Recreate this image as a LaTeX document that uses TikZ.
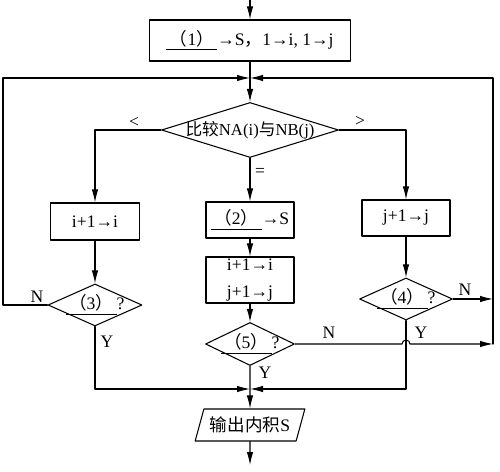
\documentclass[tikz,border=0pt]{standalone}
\usepackage{fontspec}
\setmainfont{Liberation Serif}
\newfontfamily\cjk{Noto Sans CJK SC}
\usetikzlibrary{arrows.meta,shapes.geometric,calc}
\newcommand{\blank}[1]{\underline{\hspace{2pt}{\cjk （}#1{\cjk ）}\hspace{2pt}}}
\tikzset{
	proc/.style={draw,rectangle,line width=0.6pt,inner sep=0pt,align=center,font=\fontsize{10}{15}\selectfont},
	decide/.style={draw,diamond,line width=0.6pt,inner sep=-2pt,font=\fontsize{10}{12}\selectfont},
	io/.style={draw,trapezium,trapezium left angle=65,trapezium right angle=115,trapezium stretches=true,line width=0.6pt,inner sep=0pt,font=\fontsize{10}{12}\selectfont},
	arr/.style={-{Latex[length=2.6mm,width=1.3mm]},line width=0.6pt},
	lbl/.style={inner sep=0pt,font=\fontsize{10}{12}\selectfont}
}
\begin{document}
\begin{tikzpicture}[line cap=round,line join=round,x=1.0cm,y=1.0cm]
		\useasboundingbox (0,0) rectangle (10,9.42);
		% nodes
		\node[proc,minimum width=4.02cm,minimum height=0.82cm] (init) at (5,8.61) {\blank{1}→S{\cjk ，}1→i, 1→j};
		\node[decide,aspect=3.2,minimum width=3.54cm,minimum height=1.1cm,font=\fontsize{9.5}{12}\selectfont] (cmp) at (5,6.82) {{\cjk 比较}NA(i){\cjk 与}NB(j)};
		\node[proc,minimum width=1.78cm,minimum height=0.74cm] (inci) at (1.9,4.99) {i+1→i};
		\node[proc,minimum width=1.76cm,minimum height=0.72cm] (adds) at (5,5.02) {\blank{2}→S};
		\node[proc,minimum width=1.76cm,minimum height=0.72cm] (incj) at (8.12,5.06) {j+1→j};
		\node[proc,minimum width=1.76cm,minimum height=0.92cm] (incij) at (5,3.82) {i+1→i\\j+1→j};
		\node[decide,aspect=2.24,minimum width=1.88cm,minimum height=0.84cm] (ask3) at (1.9,3.32) {\blank{3}?};
		\node[decide,aspect=2.1,minimum width=1.78cm,minimum height=0.86cm] (ask5) at (5,2.54) {\blank{5}?};
		\node[decide,aspect=2.2,minimum width=1.86cm,minimum height=0.84cm] (ask4) at (8.12,3.44) {\blank{4}?};
		\node[io,minimum width=2.2cm,minimum height=0.64cm] (out) at (5,0.92) {{\cjk 输出内积}S};
		\coordinate (start) at (5,9.42);
		\coordinate (stop) at (5,0.12);
		\coordinate (jtop) at (5,7.86);
		\coordinate (jbot) at (5,1.64);
		\coordinate (lx) at (0.06,0);
		\coordinate (rx) at (9.86,0);
		% main line
		\draw[arr] (start) -- (init.north);
		\draw[arr] (init.south) -- (cmp.north);
		\draw[arr] (cmp.west) -| (inci.north);
		\draw[arr] (cmp.south) -- (adds.north);
		\draw[arr] (cmp.east) -| (incj.north);
		\draw[arr] (inci.south) -- (ask3.north);
		\draw[arr] (adds.south) -- (incij.north);
		\draw[arr] (incij.south) -- (ask5.north);
		\draw[arr] (incj.south) -- (ask4.north);
		\draw[arr] (ask5.south) -- (out.north);
		\draw[arr] (out.south) -- (stop);
		% loops back
		\draw[arr] (ask3.west) -- (ask3.west -| lx) -- (jtop -| lx) -- (jtop);
		\draw[arr] (ask4.east) -- (ask4.east -| rx);
		\draw[arr] (ask5.east) -- ($(ask5.east -| ask4.south)+(-0.08,0)$) arc[start angle=180,end angle=0,radius=0.08] -- (ask5.east -| rx);
		\draw[arr] (ask5.east -| rx) -- (jtop -| rx) -- (jtop);
		% exits
		\draw[arr] (ask3.south) |- (jbot);
		\draw[arr] (ask4.south) |- (jbot);
		% labels
		\node[lbl] (lt) at (2.68,6.98) {<};
		\node[lbl] (gt) at (7.2,7.0) {>};
		\node[lbl] (eq) at (5.2,5.98) {=};
		\node[lbl] (n3) at (0.74,3.48) {N};
		\node[lbl] (y3) at (2.14,2.58) {Y};
		\node[lbl] (n5) at (6.58,2.76) {N};
		\node[lbl] (y5) at (5.3,1.96) {Y};
		\node[lbl] (n4) at (9.3,3.62) {N};
		\node[lbl] (y4) at (8.42,2.76) {Y};
	\end{tikzpicture}
\end{document}
